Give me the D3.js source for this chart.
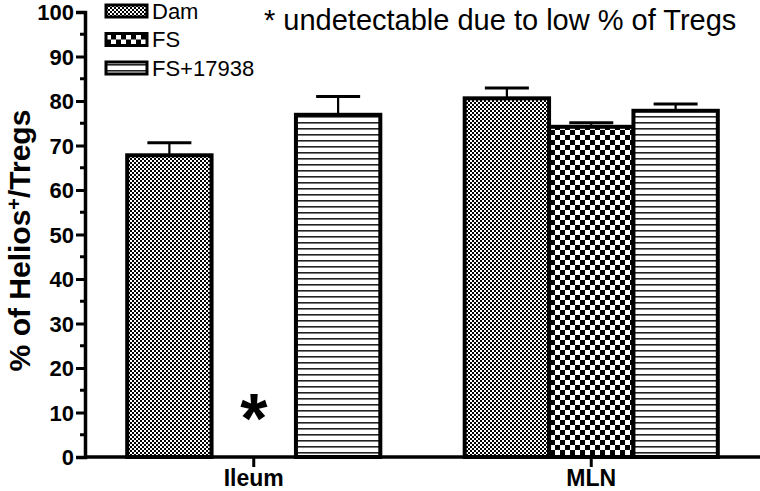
<!DOCTYPE html>
<html>
<head>
<meta charset="utf-8">
<script src="https://cdn.jsdelivr.net/npm/d3@7"></script>
<style>
  body { margin: 0; background: #fff; }
  svg { display: block; font-family: "Liberation Sans", Arial, sans-serif; }
</style>
</head>
<body>
<div class="chart"></div>
<script>
// values
const groups = ['Ileum', 'MLN']
const series = ['Dam', 'FS', 'FS+17938']
const damMean = [67.8, 80.6]
const damSem = [2.8, 2.3]
const fsMean = [null, 74.2]   // ileum FS undetectable
const fsSem = [null, 0.9]
const fs17938Mean = [76.9, 77.8]
const fs17938Sem = [4.1, 1.5]
const yTicks = [0, 10, 20, 30, 40, 50, 60, 70, 80, 90, 100]

const width = 760
const height = 491
const margin = {top: 12, right: 0, bottom: 34, left: 85}

const svg = d3.select('.chart')
  .append('svg')
  .attr('width', width)
  .attr('height', height)

const defs = svg.append('defs')

// fine checker (Dam)
const pDam = defs.append('pattern').attr('id', 'p-dam')
  .attr('patternUnits', 'userSpaceOnUse').attr('width', 4).attr('height', 4)
pDam.append('rect').attr('width', 4).attr('height', 4).attr('fill', '#fff')
pDam.append('rect').attr('width', 2).attr('height', 2).attr('fill', '#000')
pDam.append('rect').attr('x', 2).attr('y', 2).attr('width', 2).attr('height', 2).attr('fill', '#000')

// coarse checker (FS)
const pFs = defs.append('pattern').attr('id', 'p-fs')
  .attr('patternUnits', 'userSpaceOnUse').attr('width', 10).attr('height', 10)
pFs.append('rect').attr('width', 10).attr('height', 10).attr('fill', '#fff')
pFs.append('rect').attr('width', 5).attr('height', 5).attr('fill', '#000')
pFs.append('rect').attr('x', 5).attr('y', 5).attr('width', 5).attr('height', 5).attr('fill', '#000')

// horizontal lines (FS+17938)
const pLines = defs.append('pattern').attr('id', 'p-lines')
  .attr('patternUnits', 'userSpaceOnUse').attr('width', 6).attr('height', 6)
pLines.append('rect').attr('width', 6).attr('height', 6).attr('fill', '#fff')
pLines.append('rect').attr('y', 2).attr('width', 6).attr('height', 1.6).attr('fill', '#222')

const fills = {'Dam': 'url(#p-dam)', 'FS': 'url(#p-fs)', 'FS+17938': 'url(#p-lines)'}

const data = []
groups.forEach((g, i) => {
  data.push({group: g, key: 'Dam', mean: damMean[i], sem: damSem[i]})
  data.push({group: g, key: 'FS', mean: fsMean[i], sem: fsSem[i]})
  data.push({group: g, key: 'FS+17938', mean: fs17938Mean[i], sem: fs17938Sem[i]})
})

const x0 = d3.scaleBand()
  .domain(groups)
  .range([margin.left, width - margin.right])
  .paddingInner(0.25)
  .paddingOuter(0.125)

const x1 = d3.scaleBand()
  .domain(series)
  .range([0, x0.bandwidth()])

const y = d3.scaleLinear()
  .domain([0, 100])
  .range([height - margin.bottom, margin.top])

const bars = svg.append('g')
const errs = svg.append('g')
const axes = svg.append('g')
const labels = svg.append('g')

const shown = data.filter(d => d.mean != null)

errs.selectAll('g')
  .data(shown)
  .enter().append('g')
  .each(function(d) {
    const cx = x0(d.group) + x1(d.key) + x1.bandwidth() / 2
    const g = d3.select(this)
    g.append('line')
      .attr('x1', cx).attr('x2', cx)
      .attr('y1', y(d.mean)).attr('y2', y(d.mean + d.sem))
      .attr('stroke', '#000').attr('stroke-width', 2.2)
    g.append('line')
      .attr('x1', cx - 22).attr('x2', cx + 22)
      .attr('y1', y(d.mean + d.sem)).attr('y2', y(d.mean + d.sem))
      .attr('stroke', '#000').attr('stroke-width', 3)
  })

bars.selectAll('rect')
  .data(shown)
  .enter().append('rect')
  .attr('x', d => x0(d.group) + x1(d.key))
  .attr('y', d => y(d.mean))
  .attr('width', x1.bandwidth())
  .attr('height', d => y(0) - y(d.mean))
  .attr('fill', d => fills[d.key])
  .attr('stroke', '#000')
  .attr('stroke-width', 4)

// y axis
const yAxis = axes.append('g')
  .attr('transform', `translate(${margin.left},0)`)
  .call(d3.axisLeft(y).tickValues(yTicks).tickSize(9).tickPadding(2))

yAxis.append('g')
  .selectAll('line')
  .data(d3.range(5, 100, 10))
  .enter().append('line')
  .attr('x1', -5).attr('x2', 0)
  .attr('y1', d => y(d)).attr('y2', d => y(d))
  .attr('stroke', '#000').attr('stroke-width', 3)

// x axis
const xAxis = axes.append('g')
  .attr('transform', `translate(0,${y(0)})`)
  .call(d3.axisBottom(x0).tickSize(10).tickPadding(5).tickSizeOuter(0))

axes.selectAll('.domain').attr('stroke-width', 3.5)
axes.selectAll('.tick line').attr('stroke-width', 3)
xAxis.select('.domain').attr('d', `M${margin.left},0H${width}`)

yAxis.attr('font-size', 22)
yAxis.selectAll('.tick text')
  .style('font-family', '"Liberation Sans Narrow", "Liberation Sans", Arial, sans-serif')
  .style('font-size', '22px')
  .style('font-weight', 'bold')
  .attr('dy', '0.36em')

xAxis.attr('font-size', 23)
xAxis.selectAll('.tick text')
  .style('font-size', '23px')
  .style('font-weight', 'bold')
  .attr('dy', '0.62em')

// y title
const yTitle = labels.append('text')
  .attr('transform', `translate(30,${(y(0) + y(100)) / 2 + 6}) rotate(-90)`)
  .attr('text-anchor', 'middle')
  .style('font-size', '30px')
  .style('font-weight', 'bold')
yTitle.append('tspan').text('% of Helios')
yTitle.append('tspan').text('+').attr('dy', '-0.45em').style('font-size', '20px')
yTitle.append('tspan').text('/Tregs').attr('dy', '0.3em')

// undetectable marker
labels.append('text')
  .attr('x', x0('Ileum') + x1('FS') + x1.bandwidth() / 2)
  .attr('y', 443)
  .attr('text-anchor', 'middle')
  .style('font-size', '70px')
  .style('font-weight', 'bold')
  .text('*')

labels.append('text')
  .attr('x', 264)
  .attr('y', 30)
  .style('font-size', '29px')
  .text('* undetectable due to low % of Tregs')

// legend
const legend = labels.selectAll('.legend')
  .data(series)
  .enter().append('g')
  .attr('class', 'legend')
  .attr('transform', (d, i) => `translate(106,${11 + i * 28.5})`)

legend.append('rect')
  .attr('x', 0).attr('y', -6)
  .attr('width', 41).attr('height', 12)
  .attr('fill', d => fills[d])
  .attr('stroke', '#000')
  .attr('stroke-width', 3)

legend.append('text')
  .attr('x', 46)
  .attr('y', 0)
  .attr('dy', '0.36em')
  .style('font-size', '22px')
  .text(d => d)
</script>
</body>
</html>
